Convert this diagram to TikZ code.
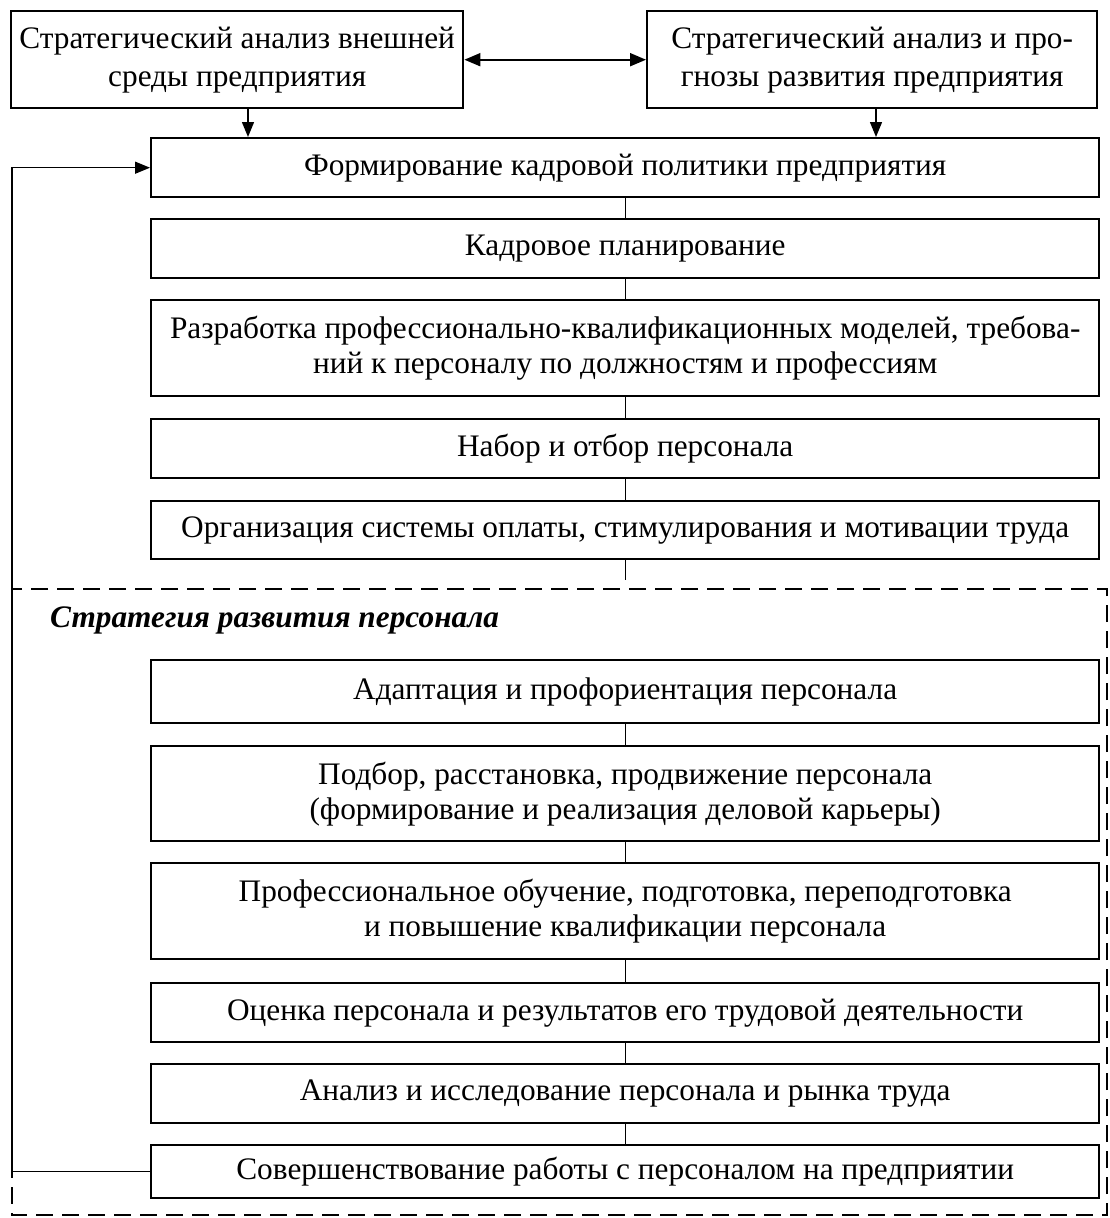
\documentclass[tikz,border=0pt]{standalone}
\usepackage{fontspec}
\setmainfont{Liberation Serif}
\usetikzlibrary{arrows.meta}
\begin{document}
\begin{tikzpicture}[x=1pt,y=-1pt,
  box/.style={draw,line width=2.4pt,rectangle,anchor=north west,inner sep=0pt,align=center,
    font=\fontsize{31.3}{35}\selectfont},
  topbox/.style={box,font=\fontsize{31.3}{38}\selectfont},
  conn/.style={line width=1.1pt},
  arr/.style={line width=1.4pt,-{Triangle[length=15pt,width=12pt]}},
  darr/.style={line width=2pt,{Triangle[length=16pt,width=13pt]}-{Triangle[length=16pt,width=13pt]}},
  dashbox/.style={line width=2.6pt,dash pattern=on 17pt off 9pt}
]
\useasboundingbox[fill=white] (0,0) rectangle (1109,1218);
% top boxes
\node[topbox,minimum width=452,minimum height=97] (tl) at (10,10) {Стратегический анализ внешней\\среды предприятия};
\node[topbox,minimum width=450,minimum height=97] (tr) at (646,10) {Стратегический анализ и про-\\гнозы развития предприятия};
% main column
\node[box,minimum width=948,minimum height=59] (b1) at (150,137) {Формирование кадровой политики предприятия};
\node[box,minimum width=948,minimum height=59] (b2) at (150,218) {Кадровое планирование};
\node[box,minimum width=948,minimum height=96] (b3) at (150,299) {Разработка профессионально-квалификационных моделей, требова-\\ний к персоналу по должностям и профессиям};
\node[box,minimum width=948,minimum height=59] (b4) at (150,418) {Набор и отбор персонала};
\node[box,minimum width=948,minimum height=58] (b5) at (150,500) {Организация системы оплаты, стимулирования и мотивации труда};
% dashed region
\draw[dashbox] (12,589) rectangle (1107,1215);
\node[anchor=west,inner sep=0pt,font=\fontsize{31.3}{35}\selectfont\bfseries\itshape] (lab) at (50,620) {Стратегия развития персонала};
\node[box,minimum width=948,minimum height=63] (b6) at (150,659) {Адаптация и профориентация персонала};
\node[box,minimum width=948,minimum height=95] (b7) at (150,745) {Подбор, расстановка, продвижение персонала\\(формирование и реализация деловой карьеры)};
\node[box,minimum width=948,minimum height=96] (b8) at (150,862) {Профессиональное обучение, подготовка, переподготовка\\и повышение квалификации персонала};
\node[box,minimum width=948,minimum height=59] (b9) at (150,982) {Оценка персонала и результатов его трудовой деятельности};
\node[box,minimum width=948,minimum height=59] (b10) at (150,1063) {Анализ и исследование персонала и рынка труда};
\node[box,minimum width=948,minimum height=53] (b11) at (150,1144) {Совершенствование работы с персоналом на предприятии};
% connectors
\draw[darr] (tl.east) -- (tr.west);
\coordinate (ax1) at (248,0);
\coordinate (ax2) at (876,0);
\draw[arr] (tl.south -| ax1) -- (ax1 |- b1.north);
\draw[arr] (tr.south -| ax2) -- (ax2 |- b1.north);
\draw[conn] (b1.south) -- (b2.north);
\draw[conn] (b2.south) -- (b3.north);
\draw[conn] (b3.south) -- (b4.north);
\draw[conn] (b4.south) -- (b5.north);
\coordinate (c5) at (624,580);
\draw[conn] (b5.south) -- (c5 -| b5.south);
\draw[conn] (b6.south) -- (b7.north);
\draw[conn] (b7.south) -- (b8.north);
\draw[conn] (b8.south) -- (b9.north);
\draw[conn] (b9.south) -- (b10.north);
\draw[conn] (b10.south) -- (b11.north);
% feedback loop
\coordinate (fbx) at (12,0);
\draw[arr] (b11.west) -- (b11.west -| fbx) -- (fbx |- b1.west) -- (b1.west);
\end{tikzpicture}
\end{document}
